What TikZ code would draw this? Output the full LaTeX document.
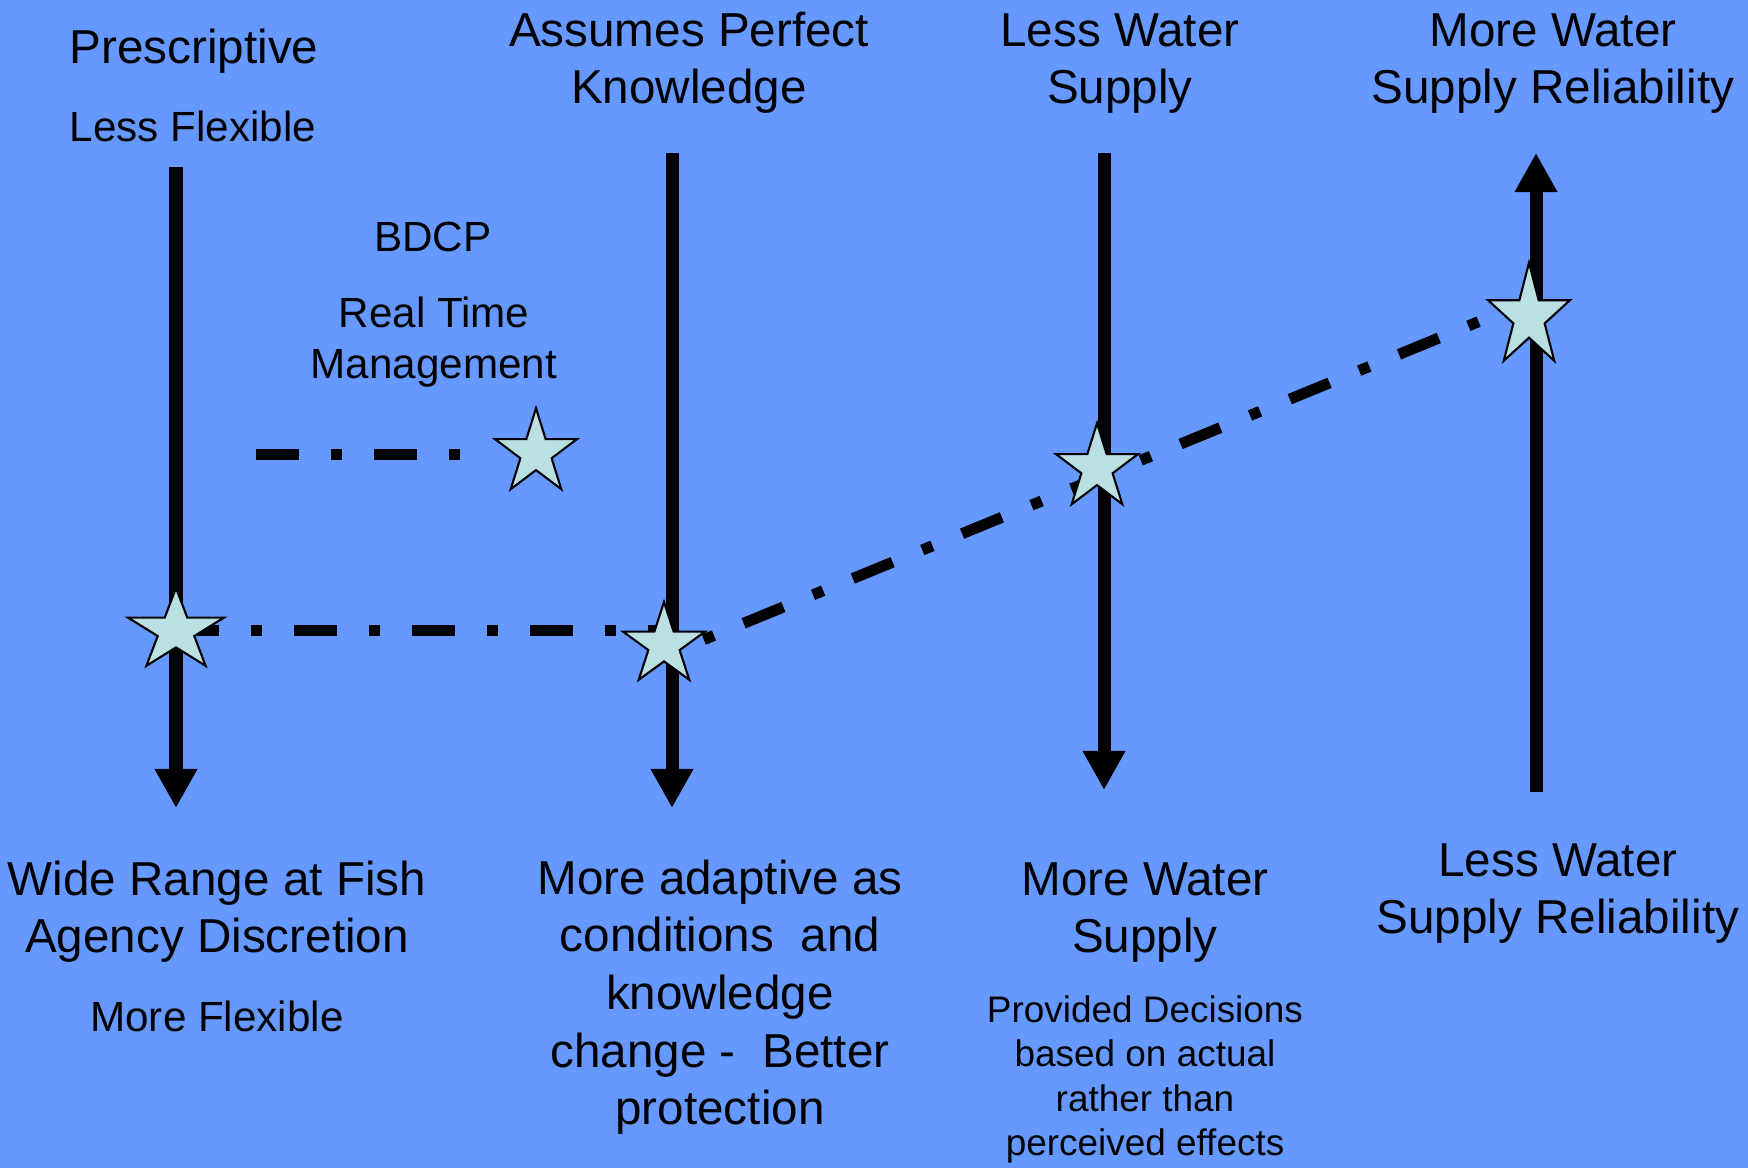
\documentclass[tikz,border=0pt]{standalone}
\usepackage{fontspec}
\setmainfont{Liberation Sans}
\usetikzlibrary{arrows.meta,shapes.geometric}
\definecolor{slidebg}{HTML}{6699FF}
\definecolor{starfill}{HTML}{BBE0E3}
\pgfdeclarelayer{bg}
\pgfdeclarelayer{lines}
\pgfsetlayers{bg,lines,main}
\tikzset{
  bigtext/.style={anchor=base, align=center, inner sep=0pt, font=\fontsize{13.54}{16.4}\selectfont},
  midtext/.style={anchor=base, align=center, inner sep=0pt, font=\fontsize{12}{14.7}\selectfont},
  smalltext/.style={anchor=base, align=center, inner sep=0pt, font=\fontsize{10.5}{12.7}\selectfont},
  scalearrow/.style={line width=0.13cm, -{Triangle[length=0.39cm, width=0.40cm]}},
  dashdot/.style={line width=0.11cm, dash pattern=on 0.43cm off 0.32cm on 0.11cm off 0.32cm},
  starnode/.style={star, star points=5, star point ratio=2.618, minimum size=0.86cm,
    inner sep=0pt, draw=black, line width=0.6pt, fill=starfill, transform shape}
}
\begin{document}
\begin{tikzpicture}[x=0.01cm, y=-0.01cm]
  \begin{pgfonlayer}{bg}
    \fill[slidebg] (0,0) rectangle (1748,1168);
  \end{pgfonlayer}
  \useasboundingbox (0,0) rectangle (1748,1168);

  % labels above the scales (base = last line)
  \node[bigtext] (presc) at (194,64) {Prescriptive};
  \node[midtext] (lessflex) at (193,142) {Less Flexible};
  \node[bigtext] (assumes) at (689,104) {Assumes Perfect\\Knowledge};
  \node[bigtext] (lesssup) at (1120,104) {Less Water\\Supply};
  \node[bigtext] (morerel) at (1553,104) {More Water\\Supply Reliability};
  \node[midtext] (bdcp) at (433,252) {BDCP};
  \node[midtext] (rtm) at (434,379) {Real Time\\Management};

  % labels below the scales
  \node[bigtext] (wide) at (217,953) {Wide Range at Fish\\Agency Discretion};
  \node[midtext] (moreflex) at (217,1032) {More Flexible};
  \node[bigtext] (adaptive) at (720,1125) {More adaptive as\\conditions\ \ and\\knowledge\\change -\ \ Better\\protection};
  \node[bigtext] (moresup) at (1145,953) {More Water\\Supply};
  \node[smalltext] (provided) at (1145,1156) {Provided Decisions\\based on actual\\rather than\\perceived effects};
  \node[bigtext] (lessrel) at (1558,934) {Less Water\\Supply Reliability};

  % stars
  \node[starnode, xscale=1.17] (s1) at (176,631) {};
  \node[starnode, yscale=1.04] (s2) at (536,453) {};
  \node[starnode] (s3) at (664,645) {};
  \node[starnode, yscale=1.04] (s4) at (1097,468) {};
  \node[starnode, yscale=1.26] (s5) at (1529,317) {};

  % scales and paths
  \coordinate (p1a) at (176,167);
  \coordinate (p1b) at (176,808);
  \coordinate (p2a) at (672,153);
  \coordinate (p2b) at (672,808);
  \coordinate (p3a) at (1104,153);
  \coordinate (p3b) at (1104,790);
  \coordinate (p4a) at (1536,792);
  \coordinate (p4b) at (1536,153);
  \coordinate (rt0) at (256,455);
  \coordinate (dg0) at (664,656);
  \coordinate (dg1) at (1529,301);

  \begin{pgfonlayer}{lines}
    \foreach \from/\to in {p1a/p1b, p2a/p2b, p3a/p3b, p4a/p4b}
      \draw[scalearrow] (\from) -- (\to);
    \draw[dashdot, shorten >=0.6cm] (rt0) -- (rt0 -| s2.center);
    \draw[dashdot] (s1.center) -- (s1.center -| s3.center);
    \draw[dashdot, dash phase=0.32cm] (dg0) -- (dg1);
  \end{pgfonlayer}
\end{tikzpicture}
\end{document}
